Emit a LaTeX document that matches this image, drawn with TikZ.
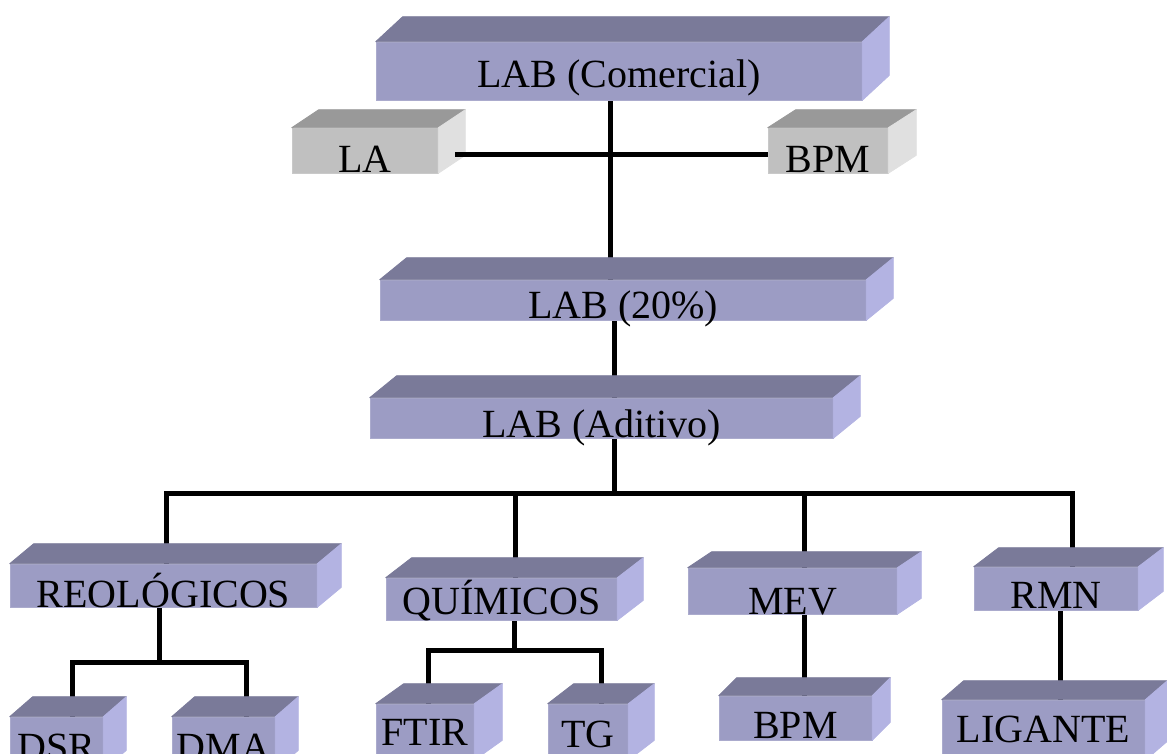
\documentclass[tikz,border=0pt]{standalone}
\usepackage{fontspec}
\setmainfont{Liberation Serif}
\usetikzlibrary{calc, backgrounds}

\definecolor{boxfront}{HTML}{9C9CC4}
\definecolor{boxtop}{HTML}{7A7A99}
\definecolor{boxside}{HTML}{B3B3E2}
\definecolor{grayfront}{HTML}{C0C0C0}
\definecolor{graytop}{HTML}{999999}
\definecolor{grayside}{HTML}{E0E0E0}

\tikzset{
  labbox/.style={rectangle, fill=boxfront, draw=boxfront!85!white, line width=0.6pt,
    inner sep=0pt, text depth=0pt, font=\fontsize{40}{44}\selectfont},
  graybox/.style={labbox, fill=grayfront, draw=grayfront!85!white},
  link/.style={line width=5pt},
}

% top and right faces of a box node: node, dx, dy, colour prefix
\newcommand{\boxfaces}[4]{%
  \filldraw[#4top, line width=0.8pt, line join=round] (#1.north west) -- ++(#2,-#3) -- ($(#1.north east)+(#2,-#3)$) -- (#1.north east) -- cycle;
  \filldraw[#4side, line width=0.8pt, line join=round] (#1.north east) -- ($(#1.north east)+(#2,-#3)$) -- ($(#1.south east)+(#2,-#3)$) -- (#1.south east) -- cycle;}

\begin{document}
\begin{tikzpicture}[x=1pt, y=-1pt]
  \clip (0,0) rectangle (1167,754);

  \node[labbox, minimum width=486pt, minimum height=58pt, text height=34pt] at (619,71) (lab) {LAB (Comercial)};
  \node[graybox, minimum width=146pt, minimum height=45pt, text height=45pt] at (365,150.5) (la) {LA};
  \node[graybox, minimum width=120pt, minimum height=45pt, text height=45pt] at (828,150.5) (bpm) {BPM};
  \node[labbox, minimum width=486pt, minimum height=40pt, text height=36pt] at (623,300) (lab20) {LAB (20\%)};
  \node[labbox, minimum width=463pt, minimum height=40pt, text height=38pt] at (601.5,418) (labad) {LAB (Aditivo)};

  \node[labbox, minimum width=307pt, minimum height=41pt, text height=43pt] at (163.5,585.5) (reo) {REOLÓGICOS};
  \node[labbox, minimum width=231pt, minimum height=42pt, text height=30pt] at (501.5,599) (qui) {QUÍMICOS};
  \node[labbox, minimum width=209pt, minimum height=46pt, text height=46pt] at (792.5,591) (mev) {MEV};
  \node[labbox, minimum width=164pt, minimum height=43pt, text height=39pt] at (1056,588.5) (rmn) {RMN};

  \node[labbox, minimum width=93pt, minimum height=53pt, text height=33pt] at (56.5,743.5) (dsr) {DSR};
  \node[labbox, minimum width=103pt, minimum height=53pt, text height=33pt] at (223.5,743.5) (dma) {DMA};
  \node[labbox, minimum width=98pt, minimum height=56pt, text height=26pt] at (425,732) (ftir) {FTIR};
  \node[labbox, minimum width=80pt, minimum height=56pt, text height=30pt] at (588,732) (tg) {TG};
  \node[labbox, minimum width=153pt, minimum height=44pt, text height=40pt] at (795.5,718) (bpmb) {BPM};
  \node[labbox, minimum width=203pt, minimum height=60pt, text height=24pt] at (1043.5,730) (lig) {LIGANTE};

  \boxfaces{lab}{27}{25}{box}
  \boxfaces{la}{27}{18}{gray}
  \boxfaces{bpm}{28}{18}{gray}
  \boxfaces{lab20}{27}{22}{box}
  \boxfaces{labad}{27}{22}{box}
  \boxfaces{reo}{24}{20}{box}
  \boxfaces{qui}{26}{20}{box}
  \boxfaces{mev}{24}{16}{box}
  \boxfaces{rmn}{25}{19}{box}
  \boxfaces{dsr}{23}{20}{box}
  \boxfaces{dma}{23}{20}{box}
  \boxfaces{ftir}{28}{20}{box}
  \boxfaces{tg}{26}{20}{box}
  \boxfaces{bpmb}{18}{18}{box}
  \boxfaces{lig}{22}{19}{box}

  % connectors
  \coordinate (cross) at (610,155);
  \coordinate (bus) at (614,493);
  \coordinate (dreo) at (166,493);
  \coordinate (dqui) at (515,493);
  \coordinate (dmev) at (804,493);
  \coordinate (drmn) at (1072,493);
  \coordinate (sreo) at (159,662);
  \coordinate (sdsr) at (72,662);
  \coordinate (sdma) at (246,662);
  \coordinate (squi) at (514,650);
  \coordinate (sftir) at (428,650);
  \coordinate (stg) at (601,650);

  \draw[link] ([xshift=17pt]la.east |- cross) -- (bpm.west |- cross);
  \begin{scope}[on background layer]
    \draw[link] (lab.south -| cross) -- (lab20.north -| cross);
    \draw[link] (lab20.south -| bus) -- (labad.north -| bus);
    \draw[link] (labad.south -| bus) -- (bus);
    \draw[link] (reo.north -| dreo) -- (dreo) -- (drmn) -- (rmn.north -| drmn);
    \draw[link] (dqui) -- (qui.north -| dqui);
    \draw[link] (dmev) -- (mev.north -| dmev);

    \draw[link] (reo.south -| sreo) -- (sreo);
    \draw[link] (dsr.north -| sdsr) -- (sdsr) -- (sdma) -- (dma.north -| sdma);
    \draw[link] (qui.south -| squi) -- (squi);
    \draw[link] (ftir.north -| sftir) -- (sftir) -- (stg) -- (tg.north -| stg);
    \draw[link] (mev.south -| dmev) -- (bpmb.north -| dmev);
    \draw[link] (rmn.south -| 1060,0) -- (lig.north -| 1060,0);
  \end{scope}
\end{tikzpicture}
\end{document}
